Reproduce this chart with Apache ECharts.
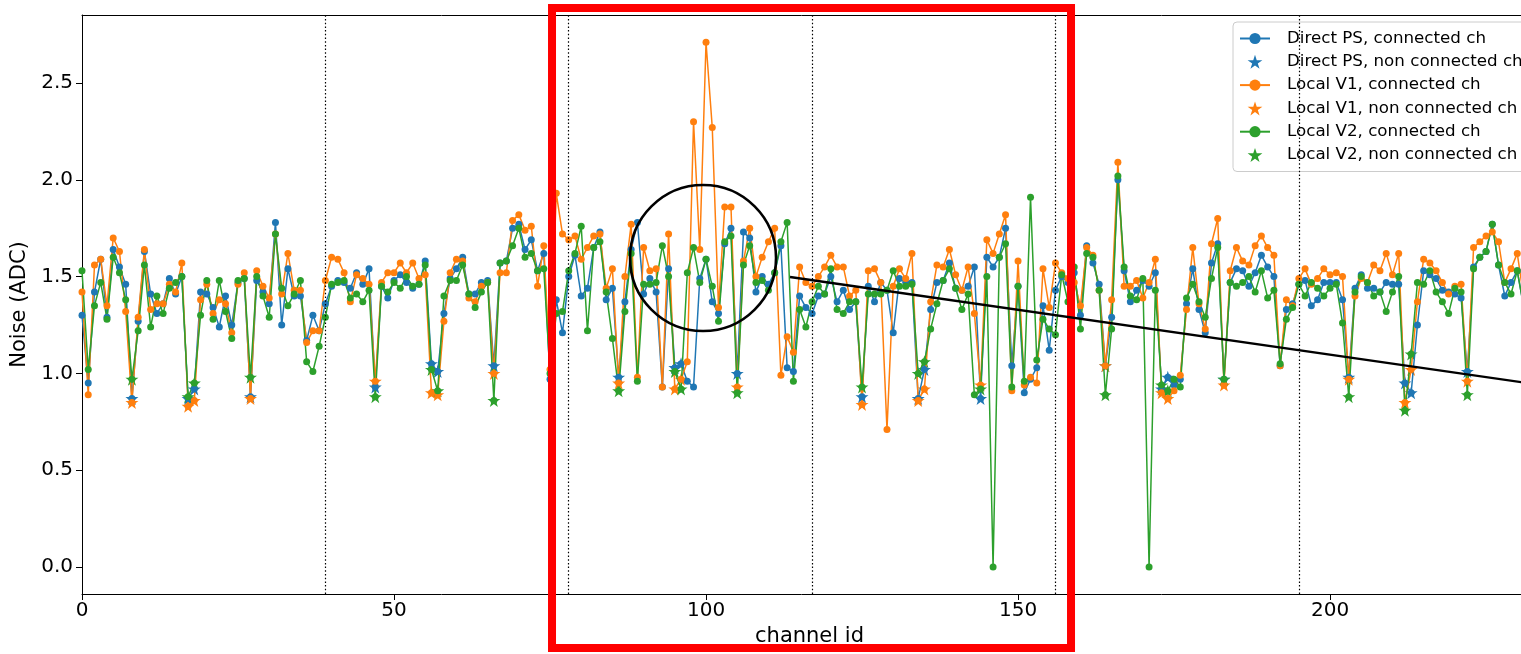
<!DOCTYPE html>
<html><head><meta charset="utf-8">
<script src="https://cdn.jsdelivr.net/npm/echarts@6/dist/echarts.min.js"></script>
<style>html,body{margin:0;padding:0;background:#fff;overflow:hidden}#c{width:1521px;height:654px}</style>
</head><body><div id="c"></div>
<script>
// ---- data ----
const directPS = [
1.30,0.95,1.42,1.59,1.29,1.64,1.55,1.46,0.87,1.27,
1.63,1.41,1.31,1.36,1.49,1.41,1.50,0.87,0.92,1.42,
1.41,1.34,1.24,1.40,1.25,1.47,1.49,0.88,1.48,1.42,
1.36,1.78,1.25,1.54,1.40,1.40,1.17,1.30,1.22,1.36,
1.45,1.48,1.47,1.44,1.52,1.46,1.54,0.93,1.45,1.39,
1.48,1.51,1.47,1.44,1.46,1.58,1.05,1.01,1.31,1.49,
1.54,1.60,1.41,1.41,1.47,1.48,1.04,1.57,1.58,1.75,
1.77,1.64,1.69,1.53,1.62,0.97,1.38,1.21,1.50,1.61,
1.40,1.44,1.65,1.73,1.38,1.44,0.98,1.37,1.64,1.78,
1.41,1.49,1.42,0.93,1.54,1.03,1.05,0.96,0.93,1.49,
1.59,1.37,1.31,1.67,1.75,1.00,1.73,1.70,1.42,1.50,
1.46,1.52,1.66,1.03,1.01,1.40,1.34,1.31,1.40,1.41,
1.50,1.37,1.43,1.33,1.37,0.88,1.45,1.37,1.47,1.43,
1.21,1.49,1.47,1.47,0.87,1.02,1.33,1.47,1.48,1.57,
1.44,1.43,1.45,1.55,0.87,1.60,1.55,1.60,1.75,1.04,
1.45,0.90,0.97,1.03,1.35,1.12,1.43,1.50,1.47,1.52,
1.30,1.66,1.57,1.46,1.04,1.29,2.00,1.53,1.37,1.43,
1.48,1.45,1.52,0.92,0.98,0.94,0.97,1.36,1.54,1.33,
1.21,1.57,1.67,0.97,1.47,1.54,1.53,1.45,1.52,1.61,
1.55,1.50,1.04,1.33,1.36,1.46,1.48,1.35,1.38,1.47,
1.47,1.47,1.38,0.98,1.44,1.51,1.44,1.44,1.42,1.47,
1.46,1.46,0.95,0.90,1.25,1.53,1.51,1.49,1.43,1.42,
1.41,1.39,1.01,1.55,1.60,1.63,1.77,1.56,1.40,1.47,
1.53,1.35];
const localV1 = [
1.42,0.89,1.56,1.59,1.35,1.70,1.63,1.32,0.85,1.29,
1.64,1.33,1.36,1.36,1.46,1.42,1.57,0.83,0.86,1.38,
1.46,1.31,1.38,1.36,1.21,1.46,1.52,0.87,1.53,1.45,
1.39,1.72,1.41,1.62,1.43,1.43,1.16,1.22,1.22,1.48,
1.60,1.59,1.52,1.37,1.51,1.49,1.46,0.96,1.47,1.52,
1.52,1.57,1.52,1.57,1.49,1.51,0.90,0.89,1.27,1.52,
1.59,1.58,1.39,1.37,1.45,1.47,1.00,1.52,1.52,1.79,
1.82,1.74,1.76,1.45,1.66,1.02,1.93,1.72,1.69,1.71,
1.59,1.65,1.71,1.72,1.44,1.54,0.95,1.50,1.77,0.98,
1.65,1.53,1.54,0.93,1.72,0.92,0.97,1.06,2.30,1.64,
2.71,2.27,1.34,1.86,1.86,0.93,1.58,1.75,1.50,1.60,
1.68,1.75,0.99,1.19,1.11,1.55,1.47,1.45,1.50,1.55,
1.61,1.55,1.55,1.40,1.43,0.84,1.53,1.54,1.47,0.71,
1.45,1.54,1.49,1.62,0.86,0.92,1.37,1.56,1.55,1.64,
1.51,1.43,1.55,1.31,0.94,1.69,1.62,1.72,1.82,0.91,
1.58,0.94,0.98,0.95,1.54,1.34,1.57,1.52,1.49,1.47,
1.35,1.65,1.61,1.43,1.04,1.38,2.09,1.45,1.45,1.48,
1.39,1.47,1.59,0.90,0.87,0.91,0.99,1.33,1.65,1.36,
1.23,1.67,1.80,0.94,1.53,1.65,1.58,1.56,1.66,1.71,
1.65,1.61,1.04,1.38,1.35,1.49,1.54,1.46,1.49,1.54,
1.51,1.52,1.50,0.97,1.40,1.49,1.47,1.56,1.53,1.62,
1.51,1.62,0.85,1.02,1.37,1.59,1.57,1.53,1.47,1.41,
1.45,1.46,0.96,1.65,1.68,1.71,1.73,1.68,1.47,1.54,
1.62,1.40];
const localV2 = [
1.53,1.02,1.35,1.47,1.28,1.60,1.52,1.38,0.97,1.22,
1.56,1.24,1.40,1.31,1.44,1.47,1.50,0.88,0.95,1.30,
1.48,1.28,1.48,1.32,1.18,1.48,1.49,0.98,1.50,1.40,
1.29,1.72,1.44,1.35,1.41,1.48,1.06,1.01,1.14,1.29,
1.46,1.47,1.48,1.39,1.41,1.37,1.43,0.88,1.45,1.42,
1.47,1.44,1.50,1.45,1.46,1.56,1.02,0.91,1.40,1.48,
1.48,1.56,1.41,1.34,1.42,1.47,0.86,1.57,1.58,1.66,
1.75,1.60,1.62,1.53,1.54,1.00,1.31,1.32,1.53,1.62,
1.76,1.22,1.65,1.68,1.42,1.18,0.91,1.32,1.62,0.96,
1.46,1.46,1.47,1.66,1.50,1.01,0.92,1.52,1.65,1.47,
1.59,1.45,1.27,1.68,1.71,0.90,1.56,1.66,1.47,1.48,
1.43,1.52,1.68,1.78,0.96,1.33,1.24,1.37,1.45,1.41,
1.54,1.33,1.31,1.37,1.37,0.93,1.41,1.41,1.41,1.43,
1.53,1.45,1.45,1.46,1.00,1.06,1.23,1.36,1.48,1.54,
1.44,1.33,1.41,0.89,0.92,1.50,0.00,1.60,1.67,0.93,
1.45,0.96,1.91,1.07,1.28,1.23,1.20,1.51,1.37,1.55,
1.23,1.62,1.60,1.43,0.89,1.23,2.02,1.55,1.40,1.38,
1.49,0.00,1.43,0.94,0.91,0.97,0.93,1.39,1.46,1.37,
1.29,1.49,1.65,0.97,1.47,1.45,1.47,1.50,1.42,1.53,
1.39,1.43,1.05,1.28,1.34,1.46,1.40,1.47,1.44,1.40,
1.44,1.46,1.26,0.88,1.42,1.50,1.47,1.40,1.42,1.32,
1.42,1.50,0.81,1.10,1.47,1.46,1.53,1.42,1.37,1.31,
1.44,1.42,0.89,1.54,1.60,1.63,1.77,1.56,1.47,1.41,
1.53,1.35];
const channelIds = directPS.map((_, i) => i);
const nonConnected = [8,17,18,27,47,56,57,66,86,95,96,105,125,134,135,144,164,173,174,183,203,212,213,222];
const blockEdges = [39,78,117,156,195];
const xTicks = [0,50,100,150,200];
const yTicks = [0,0.5,1,1.5,2,2.5];
const seriesNames = ['Direct PS', 'Local V1', 'Local V2'];

// ---- chart ----
const colors = ['#1f77b4','#ff7f0e','#2ca02c'];
const STAR = 'path://M0,-10L2.245,-3.09L9.511,-3.09L3.633,1.18L5.878,8.09L0,3.82L-5.878,8.09L-3.633,1.18L-9.511,-3.09L-2.245,-3.09Z';
const FONT = 'DejaVu Sans';
const allData = [directPS, localV1, localV2];
const series = [];
allData.forEach((vals, k) => {
  const s = {
    name: seriesNames[k] + ', connected ch', type: 'line',
    data: channelIds.map(i => [i, vals[i]]),
    symbol: 'circle', symbolSize: 7, showSymbol: true, showAllSymbol: true,
    lineStyle: {width: 1.5, color: colors[k]}, itemStyle: {color: colors[k]},
    emphasis: {disabled: true}, clip: true, animation: false
  };
  if (k === 0) {
    s.markLine = {
      silent: true, symbol: ['none','none'], label: {show: false},
      lineStyle: {color: '#000', type: [1.5, 2.2], width: 1.2},
      data: blockEdges.map(x => ({xAxis: x}))
    };
  }
  series.push(s);
  series.push({
    name: seriesNames[k] + ', non connected ch', type: 'scatter',
    data: nonConnected.map(i => [i, vals[i]]),
    symbol: STAR, symbolSize: 13,
    itemStyle: {color: colors[k], opacity: 1},
    emphasis: {disabled: true}, animation: false
  });
});

const chart = echarts.init(document.getElementById('c'), null, {renderer: 'canvas'});
const axisCommon = {
  axisLine: {show: true, onZero: false, lineStyle: {color: '#000', width: 1}},
  splitLine: {show: false}
};
const tickStyle = {show: true, inside: false, length: 6, lineStyle: {color: '#000', width: 1}};
chart.setOption({
  animation: false,
  backgroundColor: '#fff',
  grid: {left: 82, right: 0, top: 15, bottom: 60, containLabel: false},
  legend: {
    orient: 'vertical', left: 1233, top: 22,
    padding: [8, 60, 8, 6], itemGap: 6.3, itemWidth: 30, itemHeight: 14,
    backgroundColor: '#fff', borderColor: '#cccccc', borderWidth: 1, borderRadius: 4,
    textStyle: {fontFamily: FONT, fontSize: 16.7, lineHeight: 17, color: '#000', padding: [0,0,0,12]},
    data: series.map(s => s.name)
  },
  xAxis: [Object.assign({
    type: 'value', min: 0, max: 230.6, position: 'bottom',
    name: 'channel id', nameLocation: 'middle', nameGap: 29,
    nameTextStyle: {fontFamily: FONT, fontSize: 21, color: '#000', padding: [0,0,0,16]},
    axisLabel: {fontFamily: FONT, fontSize: 20, color: '#000', margin: 7, customValues: xTicks, formatter: v => String(v)},
    axisTick: Object.assign({customValues: xTicks}, tickStyle)
  }, axisCommon),
  {type: 'value', min: 0, max: 230.6, position: 'top',
   axisLine: {show: true, onZero: false, lineStyle: {color: '#000', width: 1}},
   axisTick: {show: false}, axisLabel: {show: false}, splitLine: {show: false}}],
  yAxis: Object.assign({
    type: 'value', min: -0.139, max: 2.851,
    name: 'Noise (ADC)', nameLocation: 'middle', nameGap: 41, nameRotate: 90,
    nameTextStyle: {fontFamily: FONT, fontSize: 21, color: '#000'},
    axisLabel: {fontFamily: FONT, fontSize: 20, color: '#000', margin: 9, customValues: yTicks, formatter: v => v.toFixed(1)},
    axisTick: Object.assign({customValues: yTicks}, tickStyle)
  }, axisCommon),
  series: series
});

// ---- annotations (defined in data coordinates) ----
const boxCorners = [[75.32, 2.887], [158.49, -0.418]];
const circleCenter = [99.52, 1.596];
const arrowLine = [[113.46, 1.498], [236, 0.93]];
const p = c => chart.convertToPixel({gridIndex: 0}, c);
const b0 = p(boxCorners[0]), b1 = p(boxCorners[1]);
const cc = p(circleCenter);
const l0 = p(arrowLine[0]), l1 = p(arrowLine[1]);
chart.setOption({
  graphic: [
    {type: 'rect', z: 100, silent: true, shape: {x: b0[0], y: b0[1], width: b1[0]-b0[0], height: b1[1]-b0[1]},
     style: {fill: 'none', stroke: '#ff0000', lineWidth: 8}},
    {type: 'circle', z: 100, silent: true, shape: {cx: cc[0], cy: cc[1], r: 73},
     style: {fill: 'none', stroke: '#000', lineWidth: 2.6}},
    {type: 'line', z: 100, silent: true, shape: {x1: l0[0], y1: l0[1], x2: l1[0], y2: l1[1]},
     style: {stroke: '#000', lineWidth: 2.4}}
  ]
});
</script></body></html>
